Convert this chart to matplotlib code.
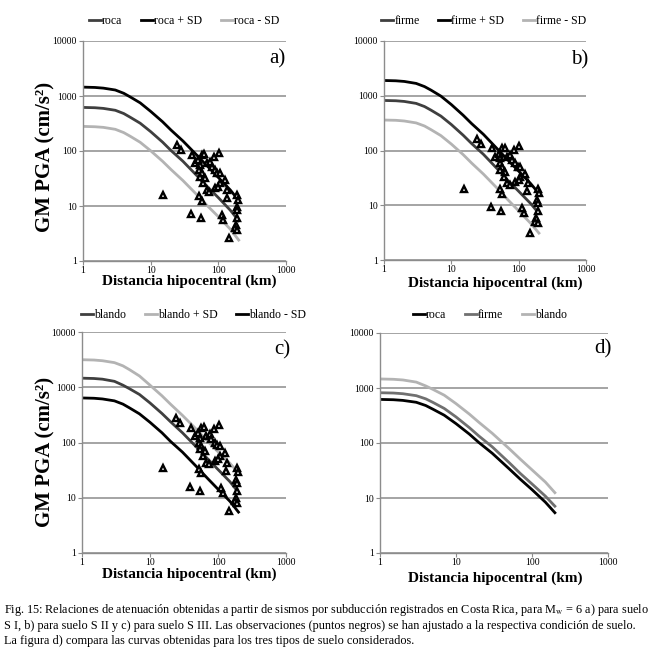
import matplotlib
matplotlib.use("Agg")
import matplotlib.pyplot as plt

plt.rcParams['font.family'] = ['Liberation Serif', 'DejaVu Serif']
plt.rcParams['mathtext.fontset'] = 'stix'

# curvas de atenuacion (distancia hipocentral en km, PGA en cm/s2)
R = [1, 1.5, 2, 3, 4, 5, 7, 10, 15, 20, 30, 50, 70, 100, 150, 200]
roca = [620, 612, 595, 550, 480, 410, 320, 225, 145, 102, 65, 34, 22, 14.2, 8.4, 5.4]
roca_plus = [1450, 1430, 1390, 1285, 1120, 960, 750, 525, 340, 240, 152, 80, 52, 33, 19.6, 12.6]
roca_minus = [280, 276, 269, 248, 216, 185, 144, 101, 65, 46, 29, 15.3, 9.9, 6.4, 3.8, 2.4]
firme = [820, 810, 787, 725, 635, 545, 425, 298, 190, 134, 85, 44, 28, 18, 10.8, 7.1]
firme_plus = [1900, 1875, 1825, 1680, 1470, 1265, 985, 690, 440, 310, 197, 102, 66, 42, 25, 16.4]
firme_minus = [360, 356, 346, 319, 280, 240, 187, 131, 84, 59, 37, 19.4, 12.4, 7.9, 4.7, 3.1]
blando = [1460, 1440, 1400, 1280, 1090, 940, 740, 520, 335, 238, 150, 79, 51, 32.5, 19.5, 12.5]
blando_plus = [3150, 3110, 3020, 2790, 2440, 2080, 1600, 1090, 700, 495, 310, 165, 106, 68, 42, 28]
blando_minus = [640, 632, 614, 567, 495, 423, 330, 232, 150, 105, 67, 35, 22.5, 14.3, 8.6, 5.5]

# observaciones
obs_dist = [24.3, 27.8, 15.4, 40.4, 56.7, 62.1, 102, 86.3, 45.2, 50.6, 53.6, 67.3, 75.4, 79.8,
            52.4, 56.7, 89.3, 96.7, 106, 53.6, 63.5, 60, 125, 106, 67.3, 73.6, 89.3, 100, 136,
            52.4, 56.7, 133, 191, 198, 187, 191, 39, 54.8, 112, 119, 191, 182, 176, 191, 145]
obs_roca = [128, 104, 16, 85, 85, 88, 93, 79, 60, 69, 56, 60, 64, 52,
            45, 39, 45, 40, 39, 34, 32, 26, 30, 26, 19.5, 18, 21, 22.5, 19.5,
            15, 12.5, 14, 16, 13, 9.7, 8.5, 7.2, 6.0, 6.9, 5.6, 6.0, 4.5, 3.9, 3.7, 2.6]
obs_firme = [164, 133, 20, 109, 109, 113, 119, 101, 77, 88, 72, 77, 82, 67,
             58, 50, 58, 51, 50, 44, 41, 33, 38, 33, 25, 23, 27, 29, 25,
             19.5, 16, 18, 20, 17, 12.4, 10.9, 9.2, 7.7, 8.8, 7.2, 7.7, 5.8, 5.0, 4.7, 3.1]
obs_blando = [282, 229, 35, 186, 186, 194, 205, 174, 132, 151, 122, 132, 141, 114,
              99, 86, 99, 89, 86, 75, 70, 57, 65, 57, 43, 40, 46, 50, 43,
              33, 27.5, 30, 35, 29, 21, 18.7, 15.8, 13.2, 15.2, 12.3, 13.2, 9.9, 8.6, 8.1, 5.7]

ticks = [1, 10, 100, 1000, 10000]
tick_labels = ['1', '10', '100', '1000', '10000']

NEGRO = '#000000'
OSCURO = '#3f3f3f'
MEDIO = '#707070'
CLARO = '#b3b3b3'
GRIS = '#8c8c8c'

fig = plt.figure(figsize=(6.57, 6.53), dpi=100)
W, H = 657, 653


def make_ax(left, top, right, bottom):
    ax = fig.add_axes([left / W, 1 - bottom / H, (right - left) / W, (bottom - top) / H])
    ax.set_xscale('log')
    ax.set_yscale('log')
    ax.set_xlim(1, 1000)
    ax.set_ylim(1, 10000)
    ax.set_xticks(ticks[:4])
    ax.set_xticklabels(tick_labels[:4])
    ax.set_yticks(ticks)
    ax.set_yticklabels(tick_labels)
    ax.minorticks_off()
    ax.tick_params(labelsize=7, length=3, width=0.8, color=GRIS, pad=1.5)
    ax.tick_params(axis='x', pad=0.8)
    ax.grid(True, axis='y', color=GRIS, lw=1.1)
    ax.set_axisbelow(True)
    for s in ['top', 'right']:
        ax.spines[s].set_visible(False)
    for s in ['left', 'bottom']:
        ax.spines[s].set_color(GRIS)
        ax.spines[s].set_linewidth(1.0)
    return ax


def obs(ax, y):
    ax.plot(obs_dist, y, ls='none', marker='^', ms=4.5, mfc='white', mec='black', mew=1.7, zorder=3)


def leg(ax, x, y):
    ax.legend(loc='center', bbox_to_anchor=(x, y), ncol=3, frameon=False, fontsize=8.5,
              handlelength=1.0, handletextpad=0.1, columnspacing=1.6, borderaxespad=0)


lw = 2.0

# a) roca
ax = make_ax(83, 41, 286, 261)
ax.plot(R, roca, color=OSCURO, lw=lw, label='roca')
ax.plot(R, roca_plus, color=NEGRO, lw=lw, label='roca + SD')
ax.plot(R, roca_minus, color=CLARO, lw=lw, label='roca - SD')
obs(ax, obs_roca)
leg(ax, 0.5, 1.091)
ax.text(1.0, 0.918, 'a)', transform=ax.transAxes, ha='right', va='center', fontsize=15)

# b) firme
ax = make_ax(384, 41, 586, 260)
ax.plot(R, firme, color=OSCURO, lw=lw, label='firme')
ax.plot(R, firme_plus, color=NEGRO, lw=lw, label='firme + SD')
ax.plot(R, firme_minus, color=CLARO, lw=lw, label='firme - SD')
obs(ax, obs_firme)
leg(ax, 0.495, 1.091)
ax.text(1.01, 0.912, 'b)', transform=ax.transAxes, ha='right', va='center', fontsize=15)

# c) blando
ax = make_ax(82, 332, 286, 553)
ax.plot(R, blando, color=OSCURO, lw=lw, label='blando')
ax.plot(R, blando_plus, color=CLARO, lw=lw, label='blando + SD')
ax.plot(R, blando_minus, color=NEGRO, lw=lw, label='blando - SD')
obs(ax, obs_blando)
leg(ax, 0.547, 1.077)
ax.text(1.02, 0.918, 'c)', transform=ax.transAxes, ha='right', va='center', fontsize=15)

# d) comparacion
ax = make_ax(380, 333, 608, 553)
ax.plot(R, roca, color=NEGRO, lw=lw, label='roca')
ax.plot(R, firme, color=MEDIO, lw=lw, label='firme')
ax.plot(R, blando, color=CLARO, lw=lw, label='blando')
leg(ax, 0.482, 1.082)
ax.text(1.017, 0.93, 'd)', transform=ax.transAxes, ha='right', va='center', fontsize=15)

# etiquetas de ejes
ylab = 'GM PGA (cm/s²)'
xlab = 'Distancia hipocentral (km)'
fig.text(45 / W, 1 - 157 / H, ylab, rotation=90, ha='center', va='center', fontsize=15, fontweight='bold')
fig.text(45 / W, 1 - 452 / H, ylab, rotation=90, ha='center', va='center', fontsize=15, fontweight='bold')
fig.text(189 / W, 1 - 281 / H, xlab, ha='center', va='center', fontsize=11, fontweight='bold')
fig.text(495 / W, 1 - 283 / H, xlab, ha='center', va='center', fontsize=11, fontweight='bold')
fig.text(189 / W, 1 - 574 / H, xlab, ha='center', va='center', fontsize=11, fontweight='bold')
fig.text(495 / W, 1 - 578 / H, xlab, ha='center', va='center', fontsize=11, fontweight='bold')

# pie de figura
caption = [
    r'Fig. 15: Relaciones de atenuación obtenidas a partir de sismos por subducción registrados en Costa Rica, para M$_\mathrm{w}$ = 6 a) para suelo',
    'S I, b) para suelo S II y c) para suelo S III. Las observaciones (puntos negros) se han ajustado a la respectiva condición de suelo.',
    'La figura d) compara las curvas obtenidas para los tres tipos de suelo considerados.',
]
for i, line in enumerate(caption):
    fig.text(4 / W, 1 - (610 + 15.5 * i) / H, line, ha='left', va='center', fontsize=8.8)

fig.savefig('out.png', dpi=100)
